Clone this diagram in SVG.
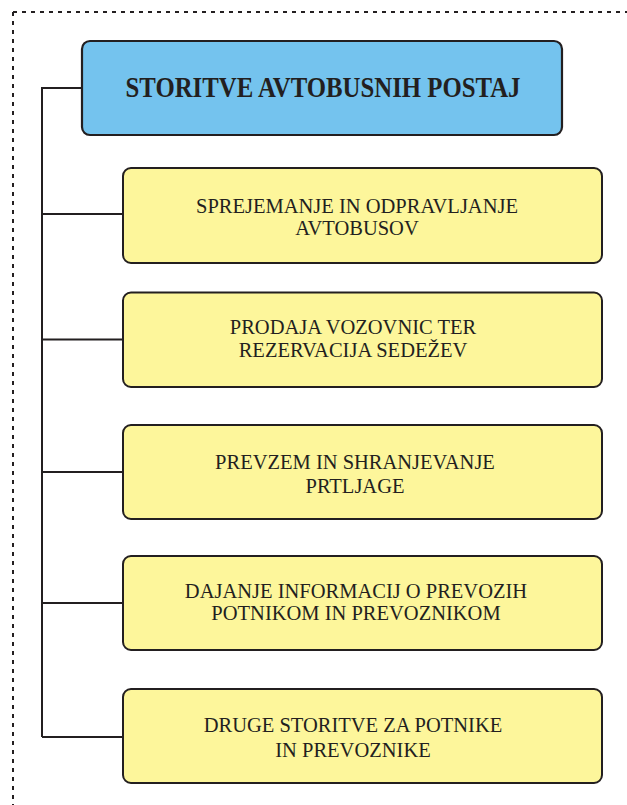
<svg xmlns="http://www.w3.org/2000/svg" width="627" height="805" viewBox="0 0 627 805">
  <style>
    .frame { fill: none; stroke: #231f20; stroke-width: 2; stroke-dasharray: 4 5; }
    .link { fill: none; stroke: #231f20; stroke-width: 2; }
    .head { fill: #74c3ee; stroke: #231f20; stroke-width: 2.2; }
    .item { fill: #fdf69b; stroke: #231f20; stroke-width: 2; }
    .title { font-family: "Liberation Serif", "Times New Roman", serif; font-weight: bold; font-size: 29px; fill: #231f20; text-anchor: middle; }
    .label { font-family: "Liberation Serif", "Times New Roman", serif; font-size: 20.5px; fill: #231f20; text-anchor: middle; }
  </style>
  <rect width="627" height="805" fill="#ffffff"/>

  <!-- dashed frame (top and left edges) -->
  <path class="frame" d="M13 12 H627 M13 12 V805"/>

  <!-- connectors: trunk and branches -->
  <g id="connectors">
    <path class="link" d="M82 88 H42 V737"/>
    <path class="link" d="M42 214 H123"/>
    <path class="link" d="M42 339.5 H123"/>
    <path class="link" d="M42 472 H123"/>
    <path class="link" d="M42 603 H123"/>
    <path class="link" d="M42 737 H123"/>
  </g>

  <g id="root">
    <rect class="head" x="82" y="41" width="480" height="94" rx="8"/>
    <text class="title" x="323" y="97" textLength="395" lengthAdjust="spacingAndGlyphs">STORITVE AVTOBUSNIH POSTAJ</text>
  </g>

  <g id="n1">
    <rect class="item" x="123" y="168" width="479" height="95" rx="8"/>
    <text class="label" x="357" y="213">SPREJEMANJE IN ODPRAVLJANJE</text>
    <text class="label" x="357" y="235">AVTOBUSOV</text>
  </g>

  <g id="n2">
    <rect class="item" x="123" y="292.5" width="479" height="94.5" rx="8"/>
    <text class="label" x="353" y="334">PRODAJA VOZOVNIC TER</text>
    <text class="label" x="353" y="357">REZERVACIJA SEDEŽEV</text>
  </g>

  <g id="n3">
    <rect class="item" x="123" y="425" width="479" height="94" rx="8"/>
    <text class="label" x="355" y="469">PREVZEM IN SHRANJEVANJE</text>
    <text class="label" x="355" y="493">PRTLJAGE</text>
  </g>

  <g id="n4">
    <rect class="item" x="123" y="556" width="479" height="94" rx="8"/>
    <text class="label" x="356" y="598">DAJANJE INFORMACIJ O PREVOZIH</text>
    <text class="label" x="356" y="620">POTNIKOM IN PREVOZNIKOM</text>
  </g>

  <g id="n5">
    <rect class="item" x="123" y="689" width="479" height="94" rx="8"/>
    <text class="label" x="353" y="732">DRUGE STORITVE ZA POTNIKE</text>
    <text class="label" x="353" y="757">IN PREVOZNIKE</text>
  </g>
</svg>
